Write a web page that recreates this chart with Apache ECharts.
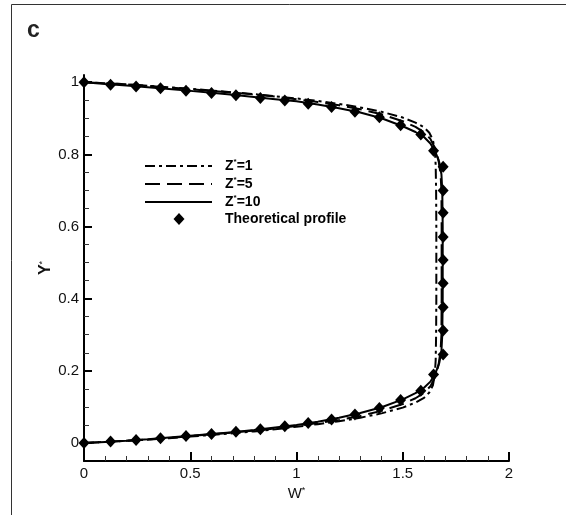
<!DOCTYPE html>
<html>
<head>
<meta charset="utf-8">
<script src="https://cdn.jsdelivr.net/npm/echarts@6/dist/echarts.min.js"></script>
<style>html,body{margin:0;padding:0;background:#fff;}#c{width:566px;height:515px;}</style>
</head>
<body>
<div id="c"></div>
<script>
// Theoretical profile (diamonds)
var thW = [0,0.125,0.245,0.36,0.48,0.6,0.715,0.83,0.945,1.055,1.165,1.275,1.39,1.49,1.585,1.645,1.69,1.69,1.69,1.69,1.69,1.69,1.69,1.69,1.69,1.645,1.585,1.49,1.39,1.275,1.165,1.055,0.945,0.83,0.715,0.6,0.48,0.36,0.245,0.125,0];
var thY = [0,0.004,0.008,0.013,0.019,0.025,0.031,0.038,0.046,0.055,0.065,0.079,0.097,0.119,0.145,0.19,0.245,0.312,0.376,0.443,0.507,0.571,0.638,0.70,0.766,0.81,0.855,0.881,0.903,0.918,0.931,0.940,0.949,0.956,0.964,0.970,0.976,0.983,0.988,0.993,1];

// Z*=10 (solid)
var z10W = [0,0.1,0.2,0.3,0.4,0.5,0.6,0.7,0.8,0.9,1.0,1.1,1.2,1.3,1.4,1.5,1.56,1.6,1.63,1.655,1.672,1.682,1.686,1.688,1.688,1.688,1.686,1.682,1.672,1.655,1.63,1.6,1.56,1.5,1.4,1.3,1.2,1.1,1.0,0.9,0.8,0.7,0.6,0.5,0.4,0.3,0.2,0.1,0];
var z10Y = [0,0.003,0.006,0.010,0.015,0.020,0.025,0.030,0.036,0.043,0.050,0.059,0.070,0.083,0.099,0.121,0.138,0.153,0.170,0.195,0.222,0.255,0.30,0.40,0.50,0.60,0.70,0.745,0.778,0.805,0.830,0.848,0.862,0.878,0.900,0.916,0.928,0.938,0.947,0.953,0.959,0.965,0.971,0.976,0.981,0.986,0.991,0.995,1];

// Z*=5 (dashed)
var z5W = [0,0.1,0.2,0.3,0.4,0.5,0.6,0.7,0.8,0.9,1.0,1.1,1.2,1.3,1.4,1.5,1.56,1.6,1.63,1.652,1.668,1.678,1.682,1.683,1.683,1.683,1.682,1.678,1.668,1.652,1.63,1.6,1.56,1.5,1.4,1.3,1.2,1.1,1.0,0.9,0.8,0.7,0.6,0.5,0.4,0.3,0.2,0.1,0];
var z5Y = [0,0.003,0.006,0.010,0.014,0.019,0.024,0.029,0.034,0.040,0.047,0.055,0.064,0.075,0.089,0.108,0.124,0.139,0.157,0.183,0.215,0.255,0.30,0.40,0.50,0.60,0.70,0.745,0.785,0.817,0.843,0.861,0.876,0.892,0.911,0.925,0.936,0.945,0.953,0.960,0.966,0.971,0.976,0.981,0.985,0.990,0.994,0.997,1];

// Z*=1 (dash-dot)
var z1W = [0,0.1,0.2,0.3,0.4,0.5,0.6,0.7,0.8,0.9,1.0,1.1,1.2,1.3,1.4,1.5,1.56,1.6,1.625,1.642,1.651,1.655,1.657,1.658,1.658,1.658,1.657,1.655,1.651,1.642,1.625,1.6,1.56,1.5,1.4,1.3,1.2,1.1,1.0,0.9,0.8,0.7,0.6,0.5,0.4,0.3,0.2,0.1,0];
var z1Y = [0,0.003,0.006,0.009,0.013,0.018,0.022,0.027,0.032,0.038,0.045,0.052,0.060,0.070,0.082,0.098,0.112,0.125,0.140,0.160,0.190,0.230,0.30,0.40,0.50,0.60,0.70,0.770,0.810,0.840,0.860,0.875,0.888,0.902,0.918,0.930,0.940,0.948,0.955,0.961,0.967,0.972,0.977,0.982,0.986,0.990,0.994,0.997,1];

var yMajor = [0,0.2,0.4,0.6,0.8,1];
var yMinor = [0.05,0.1,0.15,0.25,0.3,0.35,0.45,0.5,0.55,0.65,0.7,0.75,0.85,0.9,0.95];
var seriesNames = ['Z*=1','Z*=5','Z*=10','Theoretical profile'];

function zip(a,b){ var r=[]; for(var i=0;i<a.length;i++) r.push([a[i],b[i]]); return r; }

var chart = echarts.init(document.getElementById('c'), null, {renderer:'canvas'});
var FONT = '"Liberation Sans", Arial, sans-serif';
var dashes = [[10,4,3,4],[15,7],null];
var legRich = {
  a:{fontFamily:FONT, fontWeight:'bold', fontSize:14, fill:'#000', color:'#000', lineHeight:16},
  s:{fontFamily:FONT, fontWeight:'bold', fontSize:8, fill:'#000', color:'#000', verticalAlign:'top', lineHeight:16}
};
var legendGraphics = [];
var rowY = [166,184,202,219];
for (var i=0;i<seriesNames.length;i++){
  var n = seriesNames[i];
  if (i<3){
    var ls = {stroke:'#000', lineWidth:2};
    if (dashes[i]) ls.lineDash = dashes[i];
    legendGraphics.push({type:'line', silent:true, shape:{x1:145,y1:rowY[i],x2:212,y2:rowY[i]}, style:ls});
  } else {
    legendGraphics.push({type:'polygon', silent:true, shape:{points:[[179,rowY[i]-6],[184.5,rowY[i]],[179,rowY[i]+6],[173.5,rowY[i]]]}, style:{fill:'#000'}});
  }
  var txt = n.indexOf('Z*=')===0 ? '{a|Z}{s|*}{a|'+n.slice(2)+'}' : '{a|'+n+'}';
  legendGraphics.push({type:'text', silent:true, x:225, y:rowY[i], style:{text:txt, rich:legRich, verticalAlign:'middle', align:'left'}});
}

var option = {
  animation:false,
  backgroundColor:'#fff',
  grid:{left:84,right:57,top:75,bottom:54},
  legend:{show:false, data:seriesNames},
  xAxis:{
    type:'value', min:0, max:2, interval:0.5,
    name:'{a|W}{s|*}', nameLocation:'middle', nameGap:20,
    nameTextStyle:{rich:{
      a:{fontFamily:FONT,fontSize:15,color:'#111',lineHeight:16},
      s:{fontFamily:FONT,fontSize:9,color:'#111',verticalAlign:'top',lineHeight:16}
    }},
    axisLine:{show:true,onZero:false,lineStyle:{color:'#000',width:2}},
    axisTick:{show:true,inside:true,length:9,lineStyle:{color:'#000',width:2}},
    minorTick:{show:true,splitNumber:5,length:5,lineStyle:{color:'#333',width:1}},
    axisLabel:{fontFamily:FONT,fontSize:15,color:'#111',margin:5},
    splitLine:{show:false}
  },
  yAxis:[{
    type:'value', min:-0.05, max:1.02,
    name:'{a|Y}{s|*}', nameLocation:'middle', nameGap:30, nameRotate:90, nameMoveOverlap:false,
    nameTextStyle:{rich:{
      a:{fontFamily:FONT,fontSize:16,fontWeight:'bold',color:'#111',lineHeight:16},
      s:{fontFamily:FONT,fontSize:9,color:'#111',verticalAlign:'top',lineHeight:16}
    }},
    axisLine:{show:true,onZero:false,lineStyle:{color:'#000',width:2}},
    axisTick:{show:true,inside:true,length:8,customValues:yMajor,lineStyle:{color:'#000',width:2}},
    axisLabel:{fontFamily:FONT,fontSize:15,color:'#111',margin:5,customValues:yMajor},
    splitLine:{show:false}
  },{
    type:'value', min:-0.05, max:1.02, position:'left',
    axisLine:{show:false},
    axisTick:{show:true,inside:true,length:5,customValues:yMinor,lineStyle:{color:'#333',width:1}},
    axisLabel:{show:false},
    splitLine:{show:false}
  }],
  series:[
    {name:'Z*=1', type:'line', data:zip(z1W,z1Y), symbol:'none', z:3,
     lineStyle:{color:'#000',width:2,type:dashes[0]}, itemStyle:{color:'#000'}},
    {name:'Z*=5', type:'line', data:zip(z5W,z5Y), symbol:'none', z:3,
     lineStyle:{color:'#000',width:2,type:dashes[1]}, itemStyle:{color:'#000'}},
    {name:'Z*=10', type:'line', data:zip(z10W,z10Y), symbol:'none', z:3,
     lineStyle:{color:'#000',width:2,type:'solid'}, itemStyle:{color:'#000'}},
    {name:'Theoretical profile', type:'scatter', data:zip(thW,thY), symbol:'diamond', symbolSize:[11,12], z:4,
     itemStyle:{color:'#000',opacity:1}}
  ],
  graphic:[
    {type:'rect', shape:{x:11.5,y:4.5,width:1000,height:1000}, style:{fill:null,stroke:'#333',lineWidth:1}, silent:true},
    {type:'text', left:27, top:19, style:{text:'c', font:'bold 23px '+FONT, fill:'#222'}}
  ].concat(legendGraphics)
};
chart.setOption(option);
</script>
</body>
</html>
